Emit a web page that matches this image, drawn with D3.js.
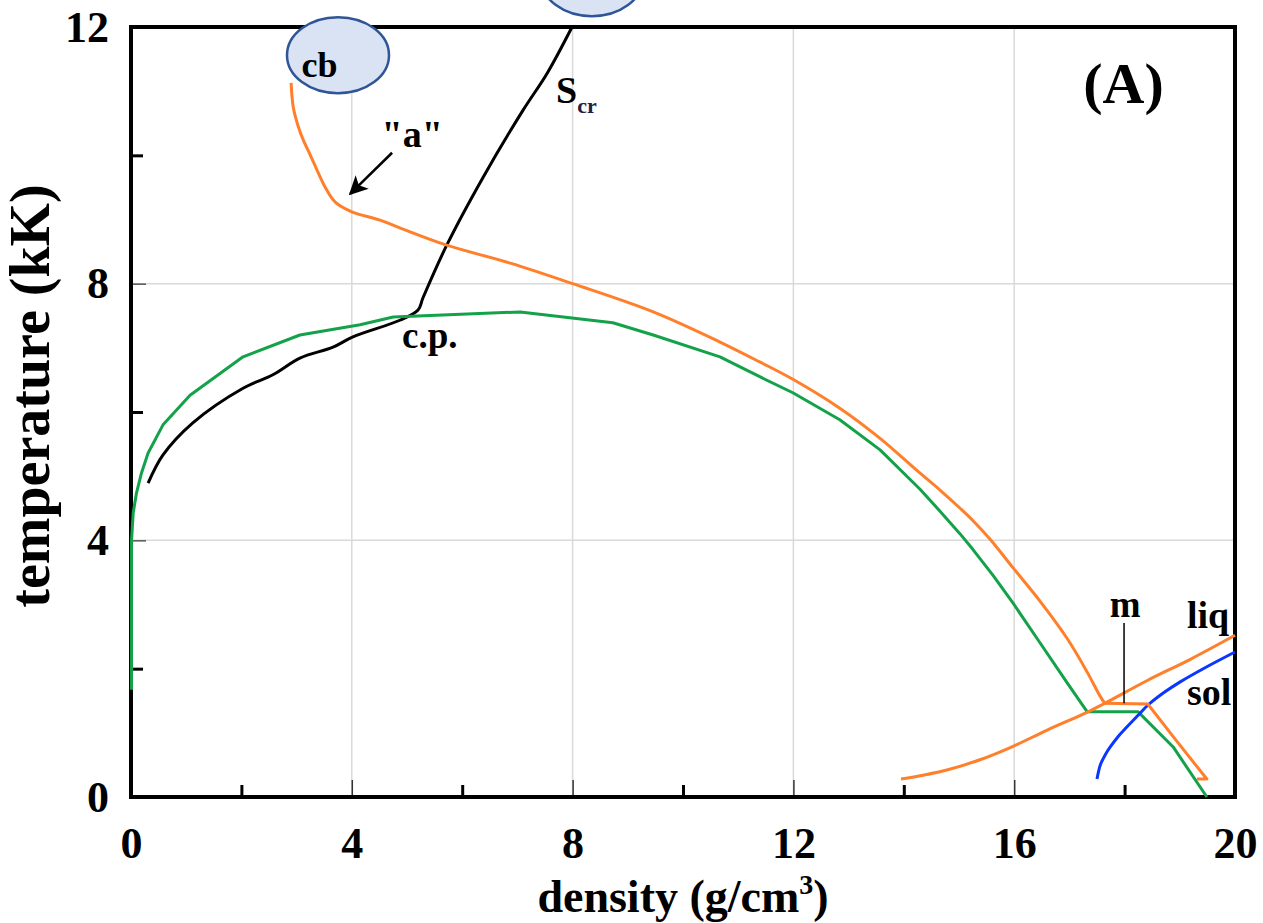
<!DOCTYPE html>
<html>
<head>
<meta charset="utf-8">
<script src="https://cdn.jsdelivr.net/npm/d3@7"></script>
<style>
  html, body { margin: 0; padding: 0; background: #fff; }
  svg { display: block; }
  text { font-family: "Times New Roman", "Liberation Serif", serif; font-weight: bold; fill: #000; }
</style>
</head>
<body>
<svg id="chart"></svg>
<script>
// density (g/cm3), temperature (kK)
const xMajorTicks = [0, 4, 8, 12, 16, 20]
const xMinorTicks = [2, 6, 10, 14, 18]
const yMajorTicks = [0, 4, 8, 12]
const yMinorTicks = [2, 6, 10]

// orange upper boundary, from "cb" down to the melting region
const orangeUpper = [
  [2.90, 11.13], [2.94, 10.75], [3.03, 10.45], [3.12, 10.24], [3.25, 10.0], [3.37, 9.77],
  [3.52, 9.50], [3.70, 9.27], [4.0, 9.12], [4.51, 8.99], [4.87, 8.87], [5.72, 8.60],
  [6.87, 8.32], [8.0, 8.0], [9.46, 7.56], [10.67, 7.09], [11.39, 6.78], [11.99, 6.51],
  [12.84, 6.06], [13.57, 5.59], [14.29, 5.05], [14.66, 4.78], [15.02, 4.50], [15.25, 4.31],
  [15.56, 4.02], [15.98, 3.57], [16.47, 3.05], [16.96, 2.47], [17.32, 1.95], [17.55, 1.58],
  [17.64, 1.46], [18.42, 1.45], [18.88, 0.94], [19.49, 0.28], [19.31, 0.28]
]

// orange liquidus "liq"
const orangeLiq = [
  [13.95, 0.28], [14.35, 0.34], [14.78, 0.42], [15.38, 0.58], [15.98, 0.79], [16.59, 1.04],
  [17.32, 1.32], [17.64, 1.46], [18.42, 1.82], [19.2, 2.15], [20.0, 2.52]
]

// green binodal
const greenBinodal = [
  [0.01, 1.67], [0.01, 4.0], [0.04, 4.43], [0.10, 4.74], [0.19, 5.05], [0.31, 5.36],
  [0.58, 5.80], [1.07, 6.26], [2.03, 6.86], [3.06, 7.20], [4.15, 7.36], [4.75, 7.48],
  [7.05, 7.56], [8.73, 7.39], [9.46, 7.20], [10.67, 6.86], [11.39, 6.55], [11.99, 6.30],
  [12.84, 5.88], [13.57, 5.41], [14.29, 4.80], [14.66, 4.45], [15.02, 4.10], [15.25, 3.86],
  [15.62, 3.45], [15.98, 3.02], [16.47, 2.40], [16.96, 1.78], [17.32, 1.33], [18.24, 1.33],
  [18.88, 0.78], [19.49, 0.0]
]

// black S_cr
const blackScr = [
  [0.31, 4.89], [0.58, 5.33], [1.12, 5.83], [2.03, 6.37], [2.57, 6.58], [3.06, 6.84],
  [3.66, 7.01], [4.02, 7.17], [4.87, 7.43], [5.20, 7.59], [5.29, 7.78], [5.72, 8.60],
  [6.38, 9.66], [7.10, 10.70], [7.54, 11.28], [7.99, 12.0]
]

// blue solidus "sol"
const blueSol = [
  [17.50, 0.28], [17.56, 0.50], [17.65, 0.66], [17.74, 0.78], [17.88, 0.94], [18.04, 1.09],
  [18.24, 1.27], [18.42, 1.43], [18.70, 1.62], [19.0, 1.79], [19.49, 2.03], [20.0, 2.26]
]

const width = 1263
const height = 923
const m = {top: 27, right: 28, bottom: 126, left: 131}

const svg = d3.select("#chart").attr("width", width).attr("height", height)

const x = d3.scaleLinear().domain([0, 20]).range([m.left, width - m.right])
const y = d3.scaleLinear().domain([0, 12]).range([height - m.bottom, m.top])

// grid
const grid = svg.append("g").attr("stroke", "#d9d9d9").attr("stroke-width", 1.5)
grid.selectAll("line.gx")
  .data(xMajorTicks.filter((d) => d > 0 && d < 20))
  .join("line")
  .attr("x1", (d) => x(d)).attr("x2", (d) => x(d))
  .attr("y1", y(0)).attr("y2", y(12))
grid.selectAll("line.gy")
  .data(yMajorTicks.filter((d) => d > 0 && d < 12))
  .join("line")
  .attr("class", "gy")
  .attr("x1", x(0)).attr("x2", x(20))
  .attr("y1", (d) => y(d)).attr("y2", (d) => y(d))

// axes (inward ticks)
const styleAxis = (g, size) => {
  g.select(".domain").remove()
  g.selectAll("text").attr("font-size", size).attr("font-family", "Times New Roman, Liberation Serif, serif").attr("font-weight", "bold")
}

svg.append("g")
  .attr("transform", `translate(${x(0)},0)`)
  .call(d3.axisLeft(y).tickValues(yMajorTicks).tickSizeInner(-15).tickSizeOuter(0).tickPadding(22))
  .call((g) => styleAxis(g, 44))
  .call((g) => g.selectAll(".tick line").attr("stroke", "#555").attr("stroke-width", 1.5))

svg.append("g")
  .attr("transform", `translate(${x(0)},0)`)
  .call(d3.axisLeft(y).tickValues(yMinorTicks).tickSizeInner(-12).tickSizeOuter(0).tickFormat(""))
  .call((g) => g.select(".domain").remove())
  .call((g) => g.selectAll(".tick line").attr("stroke", "#000").attr("stroke-width", 3))

svg.append("g")
  .attr("transform", `translate(0,${y(0)})`)
  .call(d3.axisBottom(x).tickValues(xMajorTicks).tickSizeInner(-17).tickSizeOuter(0).tickPadding(30))
  .call((g) => styleAxis(g, 44))
  .call((g) => g.selectAll(".tick line").attr("stroke", "#333").attr("stroke-width", 1.5))

svg.append("g")
  .attr("transform", `translate(0,${y(0)})`)
  .call(d3.axisBottom(x).tickValues(xMinorTicks).tickSizeInner(-12).tickSizeOuter(0).tickFormat(""))
  .call((g) => g.select(".domain").remove())
  .call((g) => g.selectAll(".tick line").attr("stroke", "#000").attr("stroke-width", 3))

// frame
svg.append("rect")
  .attr("x", x(0)).attr("y", y(12))
  .attr("width", x(20) - x(0)).attr("height", y(0) - y(12))
  .attr("fill", "none").attr("stroke", "#000").attr("stroke-width", 4)

// curves: smooth where the curve is smooth, straight through the melting corners
const straight = d3.line().x((d) => x(d[0])).y((d) => y(d[1]))
const smooth = d3.line().x((d) => x(d[0])).y((d) => y(d[1])).curve(d3.curveCatmullRom.alpha(0.5))
const orangeCorner = orangeUpper.findIndex((d) => d[0] === 17.64)
const curves = [
  {data: blackScr, color: "#000000", gen: smooth},
  {data: greenBinodal, color: "#13a24a", gen: straight},
  {data: orangeLiq, color: "#ff7f2a", gen: smooth},
  {data: blueSol, color: "#0a36ff", gen: smooth},
  {data: orangeUpper.slice(0, orangeCorner + 1), color: "#ff7f2a", gen: smooth},
  {data: orangeUpper.slice(orangeCorner), color: "#ff7f2a", gen: straight},
]
svg.append("g")
  .selectAll("path")
  .data(curves)
  .join("path")
  .attr("d", (d) => d.gen(d.data))
  .attr("fill", "none")
  .attr("stroke", (d) => d.color)
  .attr("stroke-width", 3)
  .attr("stroke-linejoin", "round")

// "m" marker line
svg.append("line")
  .attr("x1", x(17.99)).attr("x2", x(17.99))
  .attr("y1", y(2.71)).attr("y2", y(1.46))
  .attr("stroke", "#000").attr("stroke-width", 1.5)

// ellipses
const bubbles = [
  {cx: 3.75, cy: 11.56},
  {cx: 8.35, cy: 12.76},
]
svg.append("g")
  .selectAll("ellipse")
  .data(bubbles)
  .join("ellipse")
  .attr("cx", (d) => x(d.cx)).attr("cy", (d) => y(d.cy))
  .attr("rx", 51).attr("ry", 38)
  .attr("fill", "#dae3f3").attr("stroke", "#2f5597").attr("stroke-width", 2.5)

// arrow for "a"
svg.append("defs").append("marker")
  .attr("id", "head")
  .attr("viewBox", "0 0 10 10")
  .attr("refX", 9).attr("refY", 5)
  .attr("markerWidth", 7.5).attr("markerHeight", 7.5)
  .attr("markerUnits", "strokeWidth")
  .attr("orient", "auto")
  .append("path")
  .attr("d", "M0,0 L10,5 L0,10 L2.5,5 Z")
  .attr("fill", "#000")

svg.append("line")
  .attr("x1", x(4.73)).attr("y1", y(10.04))
  .attr("x2", x(3.97)).attr("y2", y(9.40))
  .attr("stroke", "#000").attr("stroke-width", 2.5)
  .attr("marker-end", "url(#head)")

// text labels
const labels = [
  {t: "cb", x: 3.09, y: 11.22, size: 36},
  {t: "\"a\"", x: 4.54, y: 10.13, size: 38},
  {t: "c.p.", x: 4.91, y: 7.0, size: 37},
  {t: "(A)", x: 17.25, y: 10.81, size: 58},
  {t: "m", x: 17.73, y: 2.80, size: 37},
  {t: "liq", x: 19.13, y: 2.64, size: 38},
  {t: "sol", x: 19.13, y: 1.43, size: 38},
]
svg.append("g")
  .selectAll("text")
  .data(labels)
  .join("text")
  .attr("x", (d) => x(d.x)).attr("y", (d) => y(d.y))
  .attr("font-size", (d) => d.size)
  .text((d) => d.t)

const scr = svg.append("text").attr("x", x(7.70)).attr("y", y(10.81)).attr("font-size", 38)
scr.append("tspan").text("S")
scr.append("tspan").attr("font-size", 22).attr("dy", 10).attr("fill", "#1a2340").text("cr")

// axis titles
const xt = svg.append("text")
  .attr("x", (x(0) + x(20)) / 2).attr("y", 912)
  .attr("text-anchor", "middle").attr("font-size", 46)
xt.append("tspan").text("density (g/cm")
xt.append("tspan").attr("font-size", 28).attr("dy", -18).text("3")
xt.append("tspan").attr("dy", 18).text(")")

svg.append("text")
  .attr("transform", `translate(49,${(y(0) + y(12)) / 2 - 16}) rotate(-90)`)
  .attr("text-anchor", "middle").attr("font-size", 56)
  .text("temperature (kK)")
</script>
</body>
</html>
